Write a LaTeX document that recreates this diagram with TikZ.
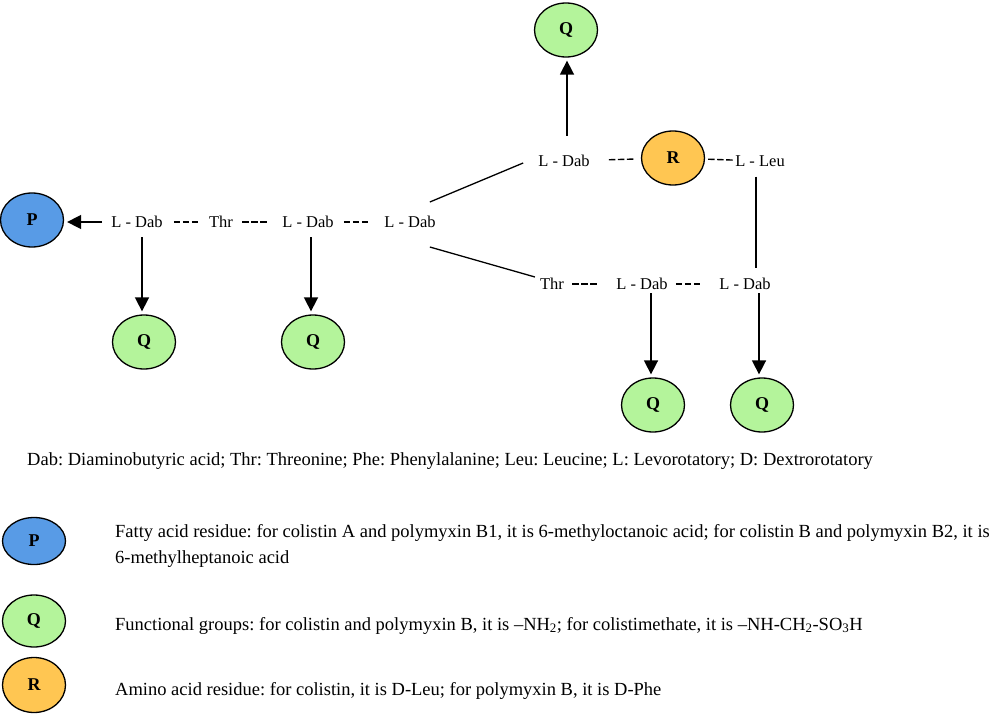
\documentclass[tikz,border=0pt]{standalone}
\usepackage{fontspec}
\setmainfont{Liberation Serif}
\usetikzlibrary{arrows.meta,shapes.geometric}
\definecolor{pblue}{RGB}{88,155,230}
\definecolor{qgreen}{RGB}{180,244,155}
\definecolor{rorange}{RGB}{255,198,82}
\frenchspacing
\begin{document}
\begin{tikzpicture}[x=1pt,y=-1pt,
    res/.style={font=\fontsize{16.5}{18}\selectfont, inner sep=0pt},
    grp/.style={ellipse, draw, line width=1.3pt, minimum width=63pt, minimum height=54pt,
      inner sep=0pt, font=\fontsize{18}{18}\selectfont\bfseries},
    bond/.style={line width=1.4pt, dash pattern=on 6.5pt off 2.5pt on 6.5pt off 2.5pt on 6.5pt off 300pt},
    link/.style={line width=1.3pt},
    arr/.style={line width=1.6pt, -{Triangle[length=14pt,width=14pt]}, shorten >=3pt},
    note/.style={font=\fontsize{18.5}{26}\selectfont, inner sep=0pt, anchor=base west, align=left}]
  \useasboundingbox (0,0) rectangle (1000,714);

  % residues
  \node[res] (d1) at (137,222) {L - Dab};
  \node[res] (thr1) at (221,222) {Thr};
  \node[res] (d2) at (308,222) {L - Dab};
  \node[res] (d3) at (410,222) {L - Dab};
  \node[res] (d4) at (564,161) {L - Dab};
  \node[res] (leu) at (760,161) {L - Leu};
  \node[res] (thr2) at (552,284) {Thr};
  \node[res] (d5) at (642,284) {L - Dab};
  \node[res] (d6) at (745,284) {L - Dab};

  % side groups
  \node[grp, fill=pblue] (p) at (32,220) {P};
  \node[grp, fill=rorange] (r) at (673,158) {R};
  \node[grp, fill=qgreen] (q1) at (144,342) {Q};
  \node[grp, fill=qgreen] (q2) at (313,342) {Q};
  \node[grp, fill=qgreen] (q3) at (566,30) {Q};
  \node[grp, fill=qgreen] (q4) at (653,405) {Q};
  \node[grp, fill=qgreen] (q5) at (762,405) {Q};

  % bonds
  \draw[bond, shorten <=11pt] (d1) -- (thr1);
  \draw[bond, shorten <=9pt] (thr1) -- (d2);
  \draw[bond, shorten <=10pt] (d2) -- (d3);
  \draw[bond, shorten <=19pt] (d4) -- (r);
  \draw[bond, shorten <=3pt] (r) -- (leu);
  \draw[bond, shorten <=8pt] (thr2) -- (d5);
  \draw[bond, shorten <=8pt] (d5) -- (d6);
  \draw[link] ([xshift=-6pt,yshift=20pt]d3.east) -- ([xshift=-15pt,yshift=-2pt]d4.west);
  \draw[link] ([xshift=-6pt,yshift=-25pt]d3.east) -- ([xshift=-5pt,yshift=7pt]thr2.west);
  \draw[link, shorten <=10pt, shorten >=10pt] ([xshift=-4pt]leu.south) -- ([xshift=-4pt]leu.south |- d6.north);

  % arrows
  \draw[arr, shorten <=9pt] (d1.west) -- (d1.west -| p.east);
  \draw[arr, shorten <=9pt] (d1.south -| 142,0) -- (142,0 |- q1.north);
  \draw[arr, shorten <=9pt] (d2.south -| 311,0) -- (311,0 |- q2.north);
  \draw[arr, shorten <=19pt] (d4.north -| 567,0) -- (567,0 |- q3.south);
  \draw[arr, shorten <=3pt] (d5.south -| 651,0) -- (651,0 |- q4.north);
  \draw[arr, shorten <=3pt] (d6.south -| 759,0) -- (759,0 |- q5.north);

  % legend
  \node[note] (abbr) at (27,465) {Dab: Diaminobutyric acid; Thr: Threonine; Phe: Phenylalanine; Leu: Leucine; L: Levorotatory; D: Dextrorotatory};
  \node[grp, fill=pblue, minimum height=47pt] (lp) at (34,541) {P};
  \node[grp, fill=qgreen, minimum height=52pt] (lq) at (34,621) {Q};
  \node[grp, fill=rorange, minimum height=55pt] (lr) at (34,685) {R};
  \node[note] (tp) at (115,563) {Fatty acid residue: for colistin A and polymyxin B1, it is 6-methyloctanoic acid; for colistin B and polymyxin B2, it is\\6-methylheptanoic acid};
  \node[note] (tq) at (115,630) {Functional groups: for colistin and polymyxin B, it is --NH\textsubscript{2}; for colistimethate, it is --NH-CH\textsubscript{2}-SO\textsubscript{3}H};
  \node[note] (tr) at (115,695) {Amino acid residue: for colistin, it is D-Leu; for polymyxin B, it is D-Phe};
\end{tikzpicture}
\end{document}
